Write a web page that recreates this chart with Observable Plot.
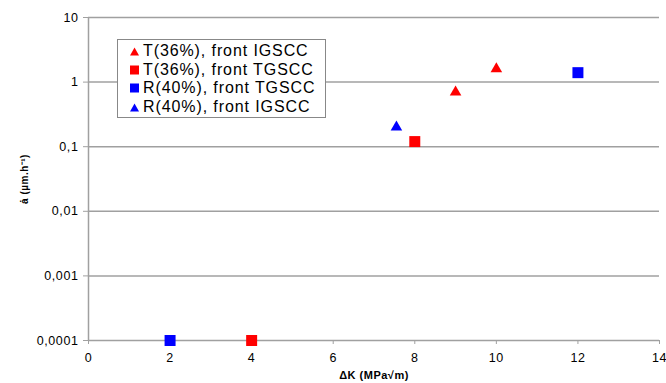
<!DOCTYPE html>
<html><head><meta charset="utf-8">
<script src="https://cdn.jsdelivr.net/npm/d3@7"></script>
<script src="https://cdn.jsdelivr.net/npm/@observablehq/plot@0.6"></script>
<style>
body{margin:0;background:#fff;font-family:"Liberation Sans",Arial,sans-serif;}
#wrap{position:relative;width:666px;height:383px;}
svg g[aria-label="y-axis tick label"] text, svg g[aria-label="x-axis tick label"] text{letter-spacing:0.6px;}
svg g[aria-label="y-axis label"] text, svg g[aria-label="x-axis label"] text{font-weight:bold;font-size:11px;letter-spacing:0.5px;}
svg g[aria-label="y-axis label"] text{font-size:10px;}
#legend{position:absolute;left:117px;top:39px;width:209px;height:79px;border:1px solid #888;background:#fff;font-size:16px;letter-spacing:0.9px;padding:2px 0 0 11px;box-sizing:border-box;color:#000;}
#legend div{display:flex;align-items:center;height:18.5px;}
#legend svg{margin-right:3px;}
</style></head>
<body><div id="wrap"><div id="legend"></div></div>
<script>
const seriesNames = ["T(36%), front IGSCC","T(36%), front TGSCC","R(40%), front TGSCC","R(40%), front IGSCC"];
const seriesColors = ["#ff0000","#ff0000","#0000ff","#0000ff"];
const seriesSymbols = ["triangle","square","square","triangle"];
const tIG_x = [9, 10];        const tIG_y = [0.7, 1.6];
const tTG_x = [4, 8];         const tTG_y = [0.0001, 0.12];
const rTG_x = [2, 12];        const rTG_y = [0.0001, 1.4];
const rIG_x = [7.55];         const rIG_y = [0.2];
const yTicks = [0.0001, 0.001, 0.01, 0.1, 1, 10];
const yTickLabels = ["0,0001","0,001","0,01","0,1","1","10"];
const xTicks = [0, 2, 4, 6, 8, 10, 12, 14];

const xs = [tIG_x, tTG_x, rTG_x, rIG_x], ys = [tIG_y, tTG_y, rTG_y, rIG_y];
const data = [];
xs.forEach((arr, s) => arr.forEach((x, i) => data.push({s, x, y: ys[s][i]})));

const grid = "#a0a0a0";
const plot = Plot.plot({
  width: 666, height: 383,
  marginLeft: 88, marginRight: 7, marginTop: 17, marginBottom: 43,
  style: {fontFamily: '"Liberation Sans", Arial, sans-serif', fontSize: "12.5px", color: "#000", background: "#fff"},
  x: {domain: [0, 14]},
  y: {type: "log", domain: [0.0001, 10]},
  marks: [
    Plot.ruleY(yTicks, {stroke: grid, strokeWidth: 1.5}),
    Plot.ruleX([0], {stroke: grid, strokeWidth: 1.5}),
    Plot.axisY({ticks: yTicks, tickFormat: d => yTickLabels[yTicks.indexOf(d)], tickSize: 5, tickPadding: 5, stroke: grid,
      label: "ȧ (µm.h⁻¹)", labelAnchor: "center", labelArrow: "none", labelOffset: 68}),
    Plot.axisX({ticks: xTicks, tickSize: 4, tickPadding: 9, stroke: grid,
      label: "ΔK (MPa√m)", labelAnchor: "center", labelArrow: "none", labelOffset: 38}),
    Plot.dot(data.filter(d => seriesSymbols[d.s] === "square"), {x: "x", y: "y", symbol: "square", r: 6.2, fill: d => seriesColors[d.s], stroke: null}),
    Plot.dot(data.filter(d => seriesSymbols[d.s] === "triangle"), {x: "x", y: "y", symbol: "triangle", r: 4.3, fill: d => seriesColors[d.s], stroke: null})
  ]
});
document.getElementById("wrap").prepend(plot);
plot.style.position = "absolute"; plot.style.left = "0"; plot.style.top = "0";

const leg = document.getElementById("legend");
seriesNames.forEach((n, i) => {
  const row = document.createElement("div");
  const sym = seriesSymbols[i] === "square"
    ? `<svg width="11" height="12"><rect x="1" y="1.5" width="9" height="9" fill="${seriesColors[i]}"/></svg>`
    : `<svg width="11" height="12"><path d="M5.5,2.5L10,10.5L1,10.5Z" fill="${seriesColors[i]}"/></svg>`;
  row.innerHTML = sym + `<span>${n}</span>`;
  leg.appendChild(row);
});
</script></body></html>
